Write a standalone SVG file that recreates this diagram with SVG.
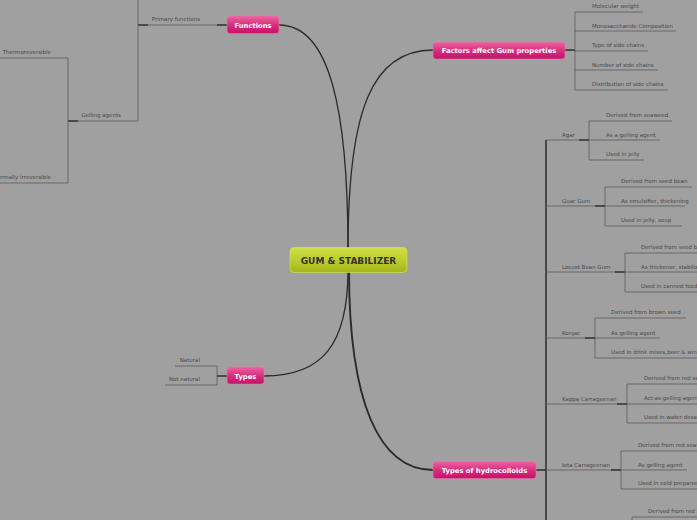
<svg xmlns="http://www.w3.org/2000/svg" width="697" height="520" viewBox="0 0 697 520">
<defs>
<linearGradient id="pink" x1="0" y1="0" x2="0" y2="1">
<stop offset="0" stop-color="#ec64a0"/>
<stop offset="0.5" stop-color="#d8307f"/>
<stop offset="1" stop-color="#c4106a"/>
</linearGradient>
<linearGradient id="lime" x1="0" y1="0" x2="0" y2="1">
<stop offset="0" stop-color="#cfdf48"/>
<stop offset="0.5" stop-color="#bccd2e"/>
<stop offset="1" stop-color="#a5b61c"/>
</linearGradient>
</defs>
<style>
.main{fill:none;stroke:#2b2b2b;stroke-width:1.3}
.ln{fill:none;stroke:#5a5a5a;stroke-width:0.8}
.stub{fill:none;stroke:#333;stroke-width:1.6}
.sp{fill:none;stroke:#333;stroke-width:1.6}
.lbl{font-family:"DejaVu Sans",Verdana,sans-serif;font-size:5.5px;fill:#484848}
.r{text-anchor:end}
.box{fill:url(#pink);stroke:#e87aab;stroke-width:0.6}
.bt{font-family:"DejaVu Sans",Verdana,sans-serif;font-size:6.8px;font-weight:bold;fill:#fff;text-anchor:middle}
</style>
<rect width="697" height="520" fill="#a0a0a0"/>
<g id="connectors">
<path class="main" d="M348,250 C348,110 330,25 279,25"/>
<path class="main" d="M348,250 C348,110 372,50 433,50"/>
<path class="main" d="M348,270 C348,345 322,376 264,376"/>
<path class="main" style="stroke-width:1.9" d="M349,270 C349,400 378,470 433,470"/>
<path class="stub" d="M217,25 H227"/>
<path class="ln" d="M148,25 H217"/>
<path class="stub" d="M138,25 H148"/>
<path class="ln" d="M138,-5 V121"/>
<path class="ln" d="M78,121 H138"/>
<path class="stub" d="M68,121 H78"/>
<path class="ln" d="M68,58 V183"/>
<path class="ln" d="M-5,58 H68"/>
<path class="ln" d="M-5,183 H68"/>
<path class="stub" d="M217,376 H227"/>
<path class="ln" d="M217,366 V385"/>
<path class="ln" d="M175,366 H217"/>
<path class="ln" d="M165,385 H217"/>
<path class="stub" d="M565,50 H575"/>
<path class="ln" d="M575,12 V90"/>
<path class="ln" d="M575,12 H643"/>
<path class="ln" d="M575,31 H676"/>
<path class="ln" d="M575,51 H648"/>
<path class="ln" d="M575,70 H658"/>
<path class="ln" d="M575,90 H668"/>
<path class="stub" d="M536,470 H546"/>
<path class="sp" d="M546,140 V525"/>
<path class="ln" d="M546,140 H579"/>
<path class="stub" d="M579,140 H589"/>
<path class="ln" d="M589,121 V160"/>
<path class="ln" d="M589,121 H672 M589,140 H660 M589,160 H644"/>
<path class="ln" d="M546,206 H595"/>
<path class="stub" d="M595,206 H605"/>
<path class="ln" d="M605,187 V226"/>
<path class="ln" d="M605,187 H692 M605,206 H685 M605,226 H682"/>
<path class="ln" d="M546,272 H615"/>
<path class="stub" d="M615,272 H625"/>
<path class="ln" d="M625,253 V292"/>
<path class="ln" d="M625,253 H705 M625,272 H705 M625,292 H705"/>
<path class="ln" d="M546,338 H585"/>
<path class="stub" d="M585,338 H595"/>
<path class="ln" d="M595,318 V358"/>
<path class="ln" d="M595,318 H686 M595,338 H660 M595,358 H705"/>
<path class="ln" d="M546,404 H617"/>
<path class="stub" d="M617,404 H627"/>
<path class="ln" d="M627,384 V423"/>
<path class="ln" d="M627,384 H705 M627,404 H705 M627,423 H705"/>
<path class="ln" d="M546,470 H611"/>
<path class="stub" d="M611,470 H621"/>
<path class="ln" d="M621,451 V489"/>
<path class="ln" d="M621,451 H705 M621,470 H687 M621,489 H705"/>
<path class="ln" d="M632,517 V530 M632,517 H705"/>
</g>
<g id="center">
<rect x="290" y="247.5" width="117" height="25" rx="4" fill="url(#lime)" stroke="#d6e45c" stroke-width="0.6"/>
<text x="348.5" y="263.8" font-family="DejaVu Sans,Verdana,sans-serif" font-size="9px" font-weight="bold" fill="#333" text-anchor="middle">GUM &amp; STABILIZER</text>
</g>
<g id="functions">
<rect class="box" x="227" y="16" width="52" height="17.5" rx="3"/>
<text class="bt" x="253" y="27.5">Functions</text>
</g>
<g id="factors">
<rect class="box" x="433" y="42" width="132" height="17" rx="3"/>
<text class="bt" x="499" y="53">Factors affect Gum properties</text>
</g>
<g id="types">
<rect class="box" x="227" y="367" width="37" height="17" rx="3"/>
<text class="bt" x="245.5" y="378.5">Types</text>
</g>
<g id="hydrocolloids">
<rect class="box" x="433" y="461.5" width="103" height="17" rx="3"/>
<text class="bt" x="484.5" y="472.5">Types of hydrocolloids</text>
</g>
<g id="primary-functions"><text class="lbl r" x="200" y="21">Primary functions</text></g>
<g id="gelling-agents"><text class="lbl r" x="121" y="117">Gelling agents</text></g>
<g id="thermoreversible"><text class="lbl r" x="51" y="54">Thermoreversible</text></g>
<g id="thermally-irreversible"><text class="lbl r" x="51" y="179">Thermally irreversible</text></g>
<g id="natural"><text class="lbl r" x="200" y="362">Natural</text></g>
<g id="not-natural"><text class="lbl r" x="200" y="381">Not natural</text></g>
<g id="f1"><text class="lbl" x="592" y="8">Molecular weight</text></g>
<g id="f2"><text class="lbl" x="592" y="27.5">Monosaccharide Composition</text></g>
<g id="f3"><text class="lbl" x="592" y="47">Type of side chains</text></g>
<g id="f4"><text class="lbl" x="592" y="66.5">Number of side chains</text></g>
<g id="f5"><text class="lbl" x="592" y="86">Distribution of side chains</text></g>
<g id="agar"><text class="lbl" x="562" y="136.5">Agar</text></g>
<g id="agar-1"><text class="lbl" x="606" y="117">Derived from seaweed</text></g>
<g id="agar-2"><text class="lbl" x="606" y="136.5">As a gelling agent</text></g>
<g id="agar-3"><text class="lbl" x="606" y="156">Used in jelly</text></g>
<g id="guar"><text class="lbl" x="562" y="202.5">Guar Gum</text></g>
<g id="guar-1"><text class="lbl" x="621" y="183">Derived from seed bean</text></g>
<g id="guar-2"><text class="lbl" x="621" y="202.5">As emulsifier, thickening</text></g>
<g id="guar-3"><text class="lbl" x="621" y="222">Used in jelly, soup</text></g>
<g id="locust"><text class="lbl" x="562" y="268.5">Locust Bean Gum</text></g>
<g id="locust-1"><text class="lbl" x="641" y="249">Derived from seed bean</text></g>
<g id="locust-2"><text class="lbl" x="641" y="268.5">As thickener, stabilizer</text></g>
<g id="locust-3"><text class="lbl" x="641" y="288">Used in canned food</text></g>
<g id="konjac"><text class="lbl" x="562" y="334.5">Konjac</text></g>
<g id="konjac-1"><text class="lbl" x="611" y="314">Derived from brown seed</text></g>
<g id="konjac-2"><text class="lbl" x="611" y="334.5">As gelling agent</text></g>
<g id="konjac-3"><text class="lbl" x="611" y="354">Used in drink mixes,beer &amp; wine</text></g>
<g id="kappa"><text class="lbl" x="562" y="400.5">Kappa Carrageenan</text></g>
<g id="kappa-1"><text class="lbl" x="644" y="380">Derived from red seaweed</text></g>
<g id="kappa-2"><text class="lbl" x="644" y="400">Act as gelling agent</text></g>
<g id="kappa-3"><text class="lbl" x="644" y="419">Used in water dessert</text></g>
<g id="iota"><text class="lbl" x="562" y="466.5">Iota Carrageenan</text></g>
<g id="iota-1"><text class="lbl" x="638" y="447">Derived from red seaweed</text></g>
<g id="iota-2"><text class="lbl" x="638" y="466.5">As gelling agent</text></g>
<g id="iota-3"><text class="lbl" x="638" y="485">Used in cold prepared foods</text></g>
<g id="next-1"><text class="lbl" x="648" y="513">Derived from red seaweed</text></g>
</svg>
